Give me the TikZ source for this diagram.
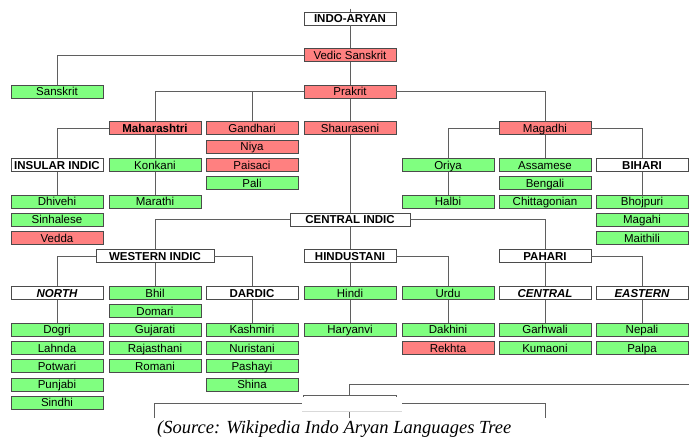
\documentclass[tikz,border=0pt]{standalone}
\usepackage{fontspec}
\setsansfont{Liberation Sans}
\newfontfamily\capfont{Liberation Serif}
\definecolor{lred}{RGB}{255,128,128}
\definecolor{lgreen}{RGB}{128,255,128}
\definecolor{edge}{RGB}{75,75,75}
\definecolor{wire}{RGB}{95,95,95}
\begin{document}
\begin{tikzpicture}[x=1pt, y=-1pt,
  lang/.style={draw=edge, line width=0.9pt, minimum width=92pt, minimum height=13pt,
    inner sep=0pt, text height=9.5pt, text depth=1.3pt,
    font=\sffamily\fontsize{11.5}{12}\selectfont}]
  \tikzset{gn/.style={lang, fill=lgreen}}
  \tikzset{rd/.style={lang, fill=lred}}
  \tikzset{hd/.style={lang, fill=white, font=\sffamily\bfseries\fontsize{11.5}{12}\selectfont}}
  \tikzset{hi/.style={lang, fill=white, font=\sffamily\bfseries\itshape\fontsize{11.5}{12}\selectfont}}
  \tikzset{link/.style={draw=wire, line width=0.9pt}}
  \useasboundingbox (0,0) rectangle (689,440);
  % old stages
  \coordinate (top) at (350,8.5);
  \node[hd] (indo) at (350,18.5) {INDO-ARYAN};
  \node[rd] (vedic) at (350,55.1) {Vedic Sanskrit};
  \node[gn] (sanskrit) at (57,91.7) {Sanskrit};
  \node[rd] (prakrit) at (350,91.7) {Prakrit};
  \node[rd, font=\sffamily\bfseries\fontsize{11.5}{12}\selectfont] (mahar) at (155,128.3) {Maharashtri};
  \node[rd] (gandhari) at (252,128.3) {Gandhari};
  \node[rd] (shaur) at (350,128.3) {Shauraseni};
  \node[rd] (magadhi) at (545,128.3) {Magadhi};
  \node[rd] (niya) at (252,146.6) {Niya};
  \node[rd] (paisaci) at (252,164.9) {Paisaci};
  \node[gn] (pali) at (252,183.2) {Pali};
  % south and east
  \node[hd] (insular) at (57,164.9) {INSULAR INDIC};
  \node[gn] (konkani) at (155,164.9) {Konkani};
  \node[gn] (oriya) at (448,164.9) {Oriya};
  \node[gn] (assamese) at (545,164.9) {Assamese};
  \node[hd] (bihari) at (642,164.9) {BIHARI};
  \node[gn] (bengali) at (545,183.2) {Bengali};
  \node[gn] (dhivehi) at (57,201.5) {Dhivehi};
  \node[gn] (marathi) at (155,201.5) {Marathi};
  \node[gn] (halbi) at (448,201.5) {Halbi};
  \node[gn] (chitta) at (545,201.5) {Chittagonian};
  \node[gn] (bhojpuri) at (642,201.5) {Bhojpuri};
  \node[gn] (sinhalese) at (57,219.8) {Sinhalese};
  \node[gn] (magahi) at (642,219.8) {Magahi};
  \node[rd] (vedda) at (57,238.1) {Vedda};
  \node[gn] (maithili) at (642,238.1) {Maithili};
  % central group
  \node[hd, minimum width=120pt] (central) at (350,219.8) {CENTRAL INDIC};
  \node[hd, minimum width=118pt] (western) at (155,256.4) {WESTERN INDIC};
  \node[hd] (hindu) at (350,256.4) {HINDUSTANI};
  \node[hd] (pahari) at (545,256.4) {PAHARI};
  \node[hi] (north) at (57,293) {NORTH};
  \node[gn] (bhil) at (155,293) {Bhil};
  \node[hd] (dardic) at (252,293) {DARDIC};
  \node[gn] (hindi) at (350,293) {Hindi};
  \node[gn] (urdu) at (448,293) {Urdu};
  \node[hi] (centralp) at (545,293) {CENTRAL};
  \node[hi] (eastern) at (642,293) {EASTERN};
  \node[gn] (domari) at (155,311.3) {Domari};
  \node[gn] (dogri) at (57,329.6) {Dogri};
  \node[gn] (gujarati) at (155,329.6) {Gujarati};
  \node[gn] (kashmiri) at (252,329.6) {Kashmiri};
  \node[gn] (haryanvi) at (350,329.6) {Haryanvi};
  \node[gn] (dakhini) at (448,329.6) {Dakhini};
  \node[gn] (garhwali) at (545,329.6) {Garhwali};
  \node[gn] (nepali) at (642,329.6) {Nepali};
  \node[gn] (lahnda) at (57,347.9) {Lahnda};
  \node[gn] (rajasth) at (155,347.9) {Rajasthani};
  \node[gn] (nuristani) at (252,347.9) {Nuristani};
  \node[rd] (rekhta) at (448,347.9) {Rekhta};
  \node[gn] (kumaoni) at (545,347.9) {Kumaoni};
  \node[gn] (palpa) at (642,347.9) {Palpa};
  \node[gn] (potwari) at (57,366.2) {Potwari};
  \node[gn] (romani) at (155,366.2) {Romani};
  \node[gn] (pashayi) at (252,366.2) {Pashayi};
  \node[gn] (punjabi) at (57,384.5) {Punjabi};
  \node[gn] (shina) at (252,384.5) {Shina};
  \node[gn] (sindhi) at (57,402.8) {Sindhi};
  % links
  \draw[link] (top) -- (indo.north);
  \draw[link] (indo.south) -- (vedic.north);
  \draw[link] (vedic.west) -| (sanskrit.north);
  \draw[link] (vedic.south) -- (prakrit.north);
  \draw[link] (prakrit.west) -| (mahar.north);
  \draw[link] (prakrit.west -| gandhari.north) -- (gandhari.north);
  \draw[link] (prakrit.east) -| (magadhi.north);
  \draw[link] (prakrit.south) -- (shaur.north);
  \draw[link] (mahar.west) -| (insular.north);
  \draw[link] (mahar.south) -- (konkani.north);
  \draw[link] (konkani.south) -- (marathi.north);
  \draw[link] (insular.south) -- (dhivehi.north);
  \draw[link] (magadhi.west) -| (oriya.north);
  \draw[link] (oriya.south) -- (halbi.north);
  \draw[link] (magadhi.south) -- (assamese.north);
  \draw[link] (magadhi.east) -| (bihari.north);
  \draw[link] (bihari.south) -- (bhojpuri.north);
  \draw[link] (shaur.south) -- (central.north);
  \draw[link] (central.west) -| (western.north);
  \draw[link] (central.east) -| (pahari.north);
  \draw[link] (central.south) -- (hindu.north);
  \draw[link] (western.west) -| (north.north);
  \draw[link] (western.east) -| (dardic.north);
  \draw[link] (western.south) -- (bhil.north);
  \draw[link] (north.south) -- (dogri.north);
  \draw[link] (dardic.south) -- (kashmiri.north);
  \draw[link] (hindu.south) -- (hindi.north);
  \draw[link] (hindi.south) -- (haryanvi.north);
  \draw[link] (hindu.east) -| (urdu.north);
  \draw[link] (urdu.south) -- (dakhini.north);
  \draw[link] (pahari.south) -- (centralp.north);
  \draw[link] (centralp.south) -- (garhwali.north);
  \draw[link] (pahari.east) -| (eastern.north);
  \draw[link] (eastern.south) -- (nepali.north);
  % cut-off tree at the bottom
  \coordinate (cutR) at (689,384);
  \coordinate (cutM) at (349,384);
  \coordinate (cutB) at (349,395);
  \draw[link] (cutR) -- (cutM) -- (cutB);
  \draw[link] (303,398) -- (303,395) -- (396,395) -- (396,398);
  \draw[link] (154,418) -- (154,403) -- (302,403);
  \draw[link] (402,403) -- (545,403) -- (545,418);
  \draw[link] (349,411.5) -- (349,418);
  \fill[white] (302,397) rectangle (402,411);
  \draw[gray!30] (302,411) -- (402,411);
  % caption
  \node[anchor=base west, inner sep=0pt, font=\capfont\itshape\fontsize{18.5}{20}\selectfont] (src) at (157,433) {(Source: Wikipedia Indo Aryan Languages Tree};
\end{tikzpicture}
\end{document}
